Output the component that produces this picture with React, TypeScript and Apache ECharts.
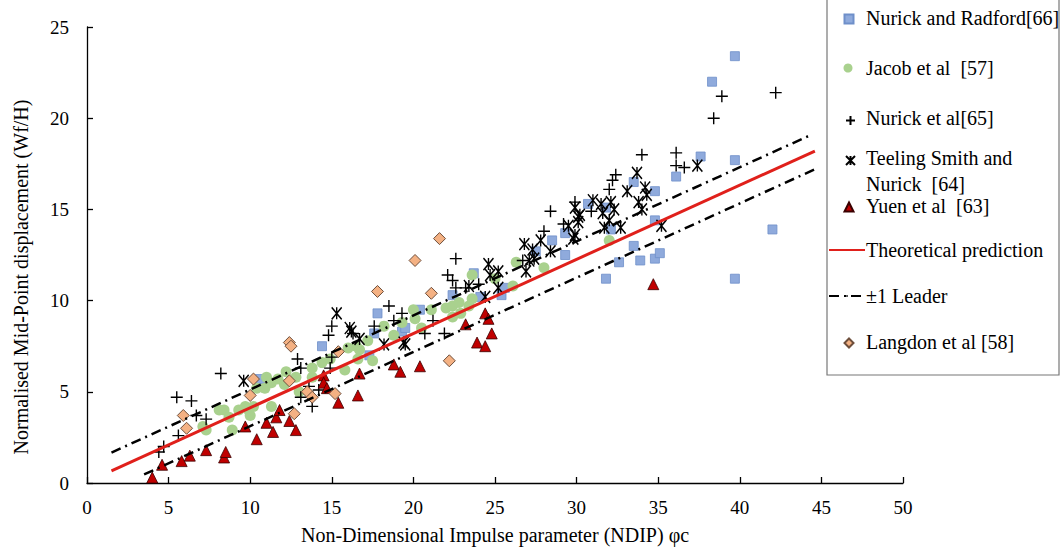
import React, { useEffect, useRef } from "react";
import * as echarts from "echarts";

const xTicks = { min: 0, max: 50, interval: 5 };
const yTicks = { min: 0, max: 25, interval: 5 };

const nurickRadford: number[][] = [
  [10.6, 5.7], [14.4, 7.5], [17.3, 7.0], [17.6, 8.2], [17.8, 9.3], [19.3, 8.3], [19.5, 8.5],
  [20.4, 9.5], [22.4, 10.3], [23.7, 11.5], [24.1, 10.2], [25.4, 10.3], [25.6, 10.7], [27.5, 12.7],
  [28.5, 13.3], [29.3, 13.7], [29.3, 12.5], [30.7, 15.3], [31.8, 15.1], [32.1, 13.9], [31.8, 11.2],
  [32.6, 12.1], [33.5, 16.5], [33.5, 13.0], [33.9, 12.2], [34.8, 16.0], [34.8, 14.4], [34.8, 12.3],
  [35.1, 12.6], [36.1, 16.8], [37.6, 17.9], [38.3, 22.0], [39.7, 23.4], [39.7, 17.7], [39.7, 11.2],
  [42.0, 13.9],
];

const jacob: number[][] = [
  [7.1, 3.1], [7.3, 2.9], [8.1, 4.0], [8.4, 4.0], [8.7, 3.6], [8.9, 2.9], [9.3, 4.0], [9.7, 4.2],
  [9.9, 4.0], [10.0, 3.7], [10.2, 4.2], [10.4, 5.2], [10.9, 5.2], [11.0, 5.8], [11.3, 5.5], [11.3, 4.2],
  [11.7, 5.7], [12.1, 5.4], [12.2, 6.1], [12.8, 5.8], [13.0, 5.0], [13.8, 5.8], [13.8, 6.3], [14.4, 6.6],
  [14.9, 6.8], [15.8, 6.2], [16.0, 7.4], [16.5, 7.5], [16.7, 7.3], [17.2, 7.8], [16.6, 6.8], [17.5, 6.7],
  [18.2, 8.6], [18.8, 8.1], [19.3, 8.8], [20.0, 9.5], [20.1, 9.0], [20.5, 8.5], [21.1, 9.5], [22.0, 9.6],
  [22.4, 9.7], [22.8, 9.9], [22.9, 9.3], [22.4, 9.1], [23.4, 9.7], [23.6, 10.1], [23.6, 11.4], [25.0, 11.2],
  [26.1, 10.8], [26.3, 12.1], [28.0, 11.8], [32.0, 13.3],
];

const nurickEtAl: number[][] = [
  [4.4, 1.7], [4.7, 2.0], [5.5, 4.7], [5.6, 2.6], [6.4, 4.5], [6.7, 3.7], [7.3, 3.5], [8.2, 6.0],
  [12.9, 6.8], [13.1, 6.3], [13.1, 4.7], [13.6, 5.3], [13.8, 4.2], [14.2, 5.1], [14.8, 8.1], [15.0, 8.6],
  [14.9, 6.3], [15.0, 6.9], [16.3, 8.2], [17.6, 8.6], [18.5, 9.7], [18.8, 8.9], [19.3, 9.3], [20.7, 8.2],
  [21.2, 8.9], [21.9, 8.2], [22.1, 11.4], [22.6, 12.3], [22.4, 11.1], [22.6, 10.7], [23.2, 10.7], [24.0, 10.9],
  [26.7, 12.2], [28.0, 13.8], [28.4, 14.9], [29.2, 14.2], [29.9, 15.4], [30.9, 14.9], [32.0, 16.1], [32.2, 16.6],
  [32.4, 16.9], [34.0, 18.0], [36.1, 18.1], [36.1, 17.4], [36.6, 17.3], [38.4, 20.0], [38.9, 21.2], [42.2, 21.4],
];

const teelingSmith: number[][] = [
  [9.6, 5.6], [15.3, 9.3], [16.1, 8.5], [16.2, 8.3], [16.7, 7.9], [18.2, 7.6], [19.4, 7.7], [19.5, 7.6],
  [23.4, 10.8], [24.4, 10.2], [24.6, 12.0], [24.7, 11.4], [25.2, 11.6], [25.2, 10.7], [26.8, 13.1], [26.9, 11.6],
  [27.1, 12.2], [27.3, 12.8], [27.4, 12.3], [27.8, 13.3], [28.4, 12.7], [29.5, 14.1], [29.8, 13.4], [29.9, 13.6],
  [29.9, 15.1], [30.1, 14.6], [30.1, 14.3], [30.2, 14.7], [31.0, 15.5], [31.5, 15.3], [31.6, 14.8], [32.1, 15.4],
  [32.3, 15.0], [32.0, 14.4], [31.7, 14.0], [32.7, 14.0], [33.1, 16.0], [33.7, 17.0], [34.2, 16.2], [34.3, 15.8],
  [33.8, 15.4], [34.0, 15.0], [35.2, 14.1], [37.4, 17.4],
];

const yuen: number[][] = [
  [4.0, 0.3], [4.6, 1.0], [5.8, 1.2], [6.3, 1.5], [7.3, 1.8], [8.4, 1.4], [8.5, 1.7], [9.7, 3.1],
  [10.4, 2.4], [11.0, 3.3], [11.4, 2.8], [11.6, 3.6], [11.8, 4.0], [12.4, 3.4], [12.8, 2.9], [14.5, 5.9],
  [14.5, 5.5], [14.7, 5.2], [15.4, 4.4], [16.7, 6.0], [16.6, 4.8], [18.8, 6.5], [19.2, 6.1], [20.4, 6.4],
  [23.2, 8.7], [24.4, 9.3], [24.6, 9.0], [24.8, 8.2], [23.9, 7.7], [24.4, 7.5], [34.7, 10.9],
];

const langdon: number[][] = [
  [5.9, 3.7], [6.1, 3.0], [10.0, 4.8], [10.2, 5.7], [12.4, 7.7], [12.5, 7.5], [12.4, 5.6], [12.7, 3.8],
  [13.5, 5.0], [13.8, 4.7], [15.2, 4.9], [15.4, 7.2], [17.8, 10.5], [20.1, 12.2], [21.6, 13.4], [21.1, 10.4],
  [22.2, 6.7],
];

const theoryLine: number[][] = [[1.5, 0.67], [44.6, 18.2]];
const leaderUpper: number[][] = [[1.5, 1.67], [44.4, 19.1]];
const leaderLower: number[][] = [[3.5, 0.47], [44.6, 17.2]];

const NAMES = {
  nr: "Nurick and Radford",
  jc: "Jacob et al",
  ne: "Nurick et al",
  ts: "Teeling Smith and",
  yu: "Yuen et al",
  th: "Theoretical prediction",
  ld: "±1 Leader",
  lg: "Langdon et al",
};

// Legend label texts and their vertical centres
const legendLabels: [string, string, number, boolean][] = [
  [NAMES.nr, "Nurick and Radford[66]", 18, false],
  [NAMES.jc, "Jacob et al  [57]", 68, false],
  [NAMES.ne, "Nurick et al[65]", 118, false],
  [NAMES.ts, "Teeling Smith and", 158, false],
  [NAMES.yu, "Yuen et al  [63]", 206, false],
  [NAMES.th, "Theoretical prediction", 250, true],
  [NAMES.ld, "±1 Leader", 296, true],
  [NAMES.lg, "Langdon et al [58]", 342, false],
];
const extraLegendLine: [string, number] = ["Nurick  [64]", 184];

const FONT = "Liberation Serif";
const FONT_CSS = "20px 'Liberation Serif', 'Times New Roman', serif";
const PLUS = "path://M5,0L5,10M0,5L10,5";
const STAR = "path://M0,0L10,10M10,0L0,10M5,0L5,10";

function legendAt(name: string, center: number, isLine: boolean) {
  return {
    data: [name],
    left: isLine ? 828 : 843.5,
    top: center - (isLine ? 1 : 4.5),
    orient: "vertical",
    padding: 0,
    selectedMode: false,
    itemWidth: isLine ? 36 : 9,
    itemHeight: isLine ? 2 : 9,
    formatter: () => "",
    textStyle: { fontSize: 1 },
  };
}

export default function App() {
  const ref = useRef<HTMLDivElement>(null);
  useEffect(() => {
    if (!ref.current) return;
    const chart = echarts.init(ref.current, null, { renderer: "svg" });
    const axisCommon = {
      axisLine: { show: true, lineStyle: { color: "#000", width: 1.3 } },
      axisTick: { show: true, inside: true, length: 6, lineStyle: { color: "#000", width: 1.3 } },
      splitLine: { show: false },
      nameLocation: "middle",
    };
    const labelTexts = [
      ...legendLabels.map(([, label, cy]) => [label, cy] as [string, number]),
      extraLegendLine,
    ].map(([label, cy]) => ({
      type: "text",
      x: 866,
      y: cy,
      z: 10,
      style: {
        text: label,
        font: FONT_CSS,
        fontFamily: FONT,
        fontSize: 20,
        fill: "#000",
        textVerticalAlign: "middle",
        verticalAlign: "middle",
      },
    }));
    chart.setOption({
      animation: false,
      backgroundColor: "#fff",
      textStyle: { fontFamily: FONT },
      grid: { left: 87, right: 161, top: 27, bottom: 66, containLabel: false },
      xAxis: {
        type: "value",
        ...xTicks,
        ...axisCommon,
        name: "Non-Dimensional Impulse parameter (NDIP) φc",
        nameGap: 42,
        nameTextStyle: { fontFamily: FONT, fontSize: 20, color: "#000" },
        axisLabel: { fontFamily: FONT, fontSize: 19, color: "#000", margin: 15 },
      },
      yAxis: {
        type: "value",
        ...yTicks,
        ...axisCommon,
        name: "Normalised Mid-Point displacement (Wf/H)",
        nameGap: 56,
        nameTextStyle: { fontFamily: FONT, fontSize: 20, color: "#000", padding: [0, 44, 0, 0] },
        axisLabel: { fontFamily: FONT, fontSize: 19, color: "#000", margin: 18 },
      },
      legend: legendLabels.map(([name, , cy, isLine]) => legendAt(name, cy, isLine)),
      graphic: [
        {
          type: "rect",
          z: -1,
          shape: { x: 827, y: -2, width: 232, height: 377 },
          style: { fill: "#fff", stroke: "#777", lineWidth: 1.2 },
        },
        ...labelTexts,
      ],
      series: [
        {
          name: NAMES.nr, type: "scatter", data: nurickRadford, symbol: "rect", symbolSize: 9,
          itemStyle: { color: "#8FAADC", borderColor: "#6F8FC9", borderWidth: 0.8, opacity: 1 },
        },
        {
          name: NAMES.jc, type: "scatter", data: jacob, symbol: "circle", symbolSize: 11,
          itemStyle: { color: "#A9D18E", opacity: 1 },
        },
        {
          name: NAMES.ne, type: "scatter", data: nurickEtAl, symbol: PLUS, symbolSize: 12,
          itemStyle: { color: "none", borderColor: "#000", borderWidth: 1.4, opacity: 1 },
        },
        {
          name: NAMES.ts, type: "scatter", data: teelingSmith, symbol: STAR, symbolSize: [10, 12],
          itemStyle: { color: "none", borderColor: "#000", borderWidth: 1.5, opacity: 1 },
        },
        {
          name: NAMES.yu, type: "scatter", data: yuen, symbol: "triangle", symbolSize: 11,
          itemStyle: { color: "#C00000", borderColor: "#3A0000", borderWidth: 0.8, opacity: 1 },
        },
        {
          name: NAMES.th, type: "line", data: theoryLine, symbol: "none",
          itemStyle: { color: "#E0201B" },
          lineStyle: { color: "#E0201B", width: 3 },
        },
        {
          name: NAMES.ld, type: "line", data: leaderUpper, symbol: "none",
          itemStyle: { color: "#000" },
          lineStyle: { color: "#000", width: 2.5, type: [10, 5, 2, 5] },
        },
        {
          name: NAMES.ld, type: "line", data: leaderLower, symbol: "none",
          itemStyle: { color: "#000" },
          lineStyle: { color: "#000", width: 2.5, type: [10, 5, 2, 5] },
        },
        {
          name: NAMES.lg, type: "scatter", data: langdon, symbol: "diamond", symbolSize: 12,
          itemStyle: { color: "#F4B183", borderColor: "#6E4F3C", borderWidth: 1, opacity: 1 },
        },
      ],
    });
    return () => chart.dispose();
  }, []);
  return (
    <div
      ref={ref}
      style={{ position: "fixed", left: 0, top: 0, width: 1064, height: 550, background: "#fff" }}
    />
  );
}
